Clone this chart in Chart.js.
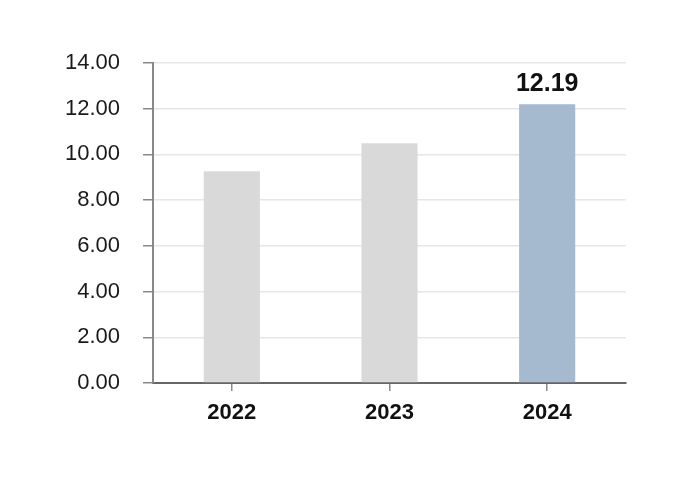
<!DOCTYPE html>
<html>
<head>
<meta charset="utf-8">
<script src="https://cdn.jsdelivr.net/npm/chart.js@4.4.0/dist/chart.umd.min.js"></script>
<style>
html,body{margin:0;padding:0;background:#fff;}
#wrap{width:690px;height:490px;}
</style>
</head>
<body>
<div id="wrap"><canvas id="c" width="690" height="490"></canvas></div>
<script>
const categories = ["2022", "2023", "2024"];
const values = [9.26, 10.49, 12.19];
const barColors = ["#d9d9d9", "#d9d9d9", "#a5b9cf"];
const labelIndex = 2;
const yTicks = [0, 2, 4, 6, 8, 10, 12, 14];

const valueLabel = {
  id: 'valueLabel',
  afterDatasetsDraw(chart) {
    const ctx = chart.ctx;
    const bar = chart.getDatasetMeta(0).data[labelIndex];
    ctx.save();
    ctx.font = 'bold 25px "Liberation Sans", Arial, sans-serif';
    ctx.fillStyle = '#111';
    ctx.textAlign = 'center';
    ctx.textBaseline = 'alphabetic';
    ctx.fillText(values[labelIndex].toFixed(2), bar.x, bar.y - 13);
    ctx.restore();
  }
};

new Chart(document.getElementById('c'), {
  type: 'bar',
  data: {
    labels: categories,
    datasets: [{
      data: values,
      backgroundColor: barColors,
      borderWidth: 0,
      categoryPercentage: 1,
      barPercentage: 0.356
    }]
  },
  options: {
    responsive: false,
    animation: false,
    devicePixelRatio: 1,
    layout: { padding: { left: 0, right: 64, top: 63, bottom: 0 } },
    plugins: { legend: { display: false }, tooltip: { enabled: false } },
    scales: {
      x: {
        grid: { offset: false, drawOnChartArea: false, drawTicks: true, tickLength: 8, tickColor: '#888', lineWidth: 1.5 },
        border: { display: true, color: '#666', width: 2 },
        ticks: { color: '#111', font: { family: '"Liberation Sans", Arial, sans-serif', size: 22, weight: 'bold' }, padding: 9 },
        afterFit(scale) { scale.height = 107; }
      },
      y: {
        min: 0, max: 14,
        afterBuildTicks(scale) { scale.ticks = yTicks.map(v => ({ value: v })); },
        grid: { color: '#e6e6e6', lineWidth: 1.5, drawTicks: true, tickLength: 10, tickColor: '#888' },
        border: { display: true, color: '#888', width: 2 },
        ticks: { color: '#1a1a1a', font: { family: '"Liberation Sans", Arial, sans-serif', size: 22 }, padding: 23, callback: v => Number(v).toFixed(2) },
        afterFit(scale) { scale.width = 153; }
      }
    }
  },
  plugins: [valueLabel]
});
</script>
</body>
</html>
